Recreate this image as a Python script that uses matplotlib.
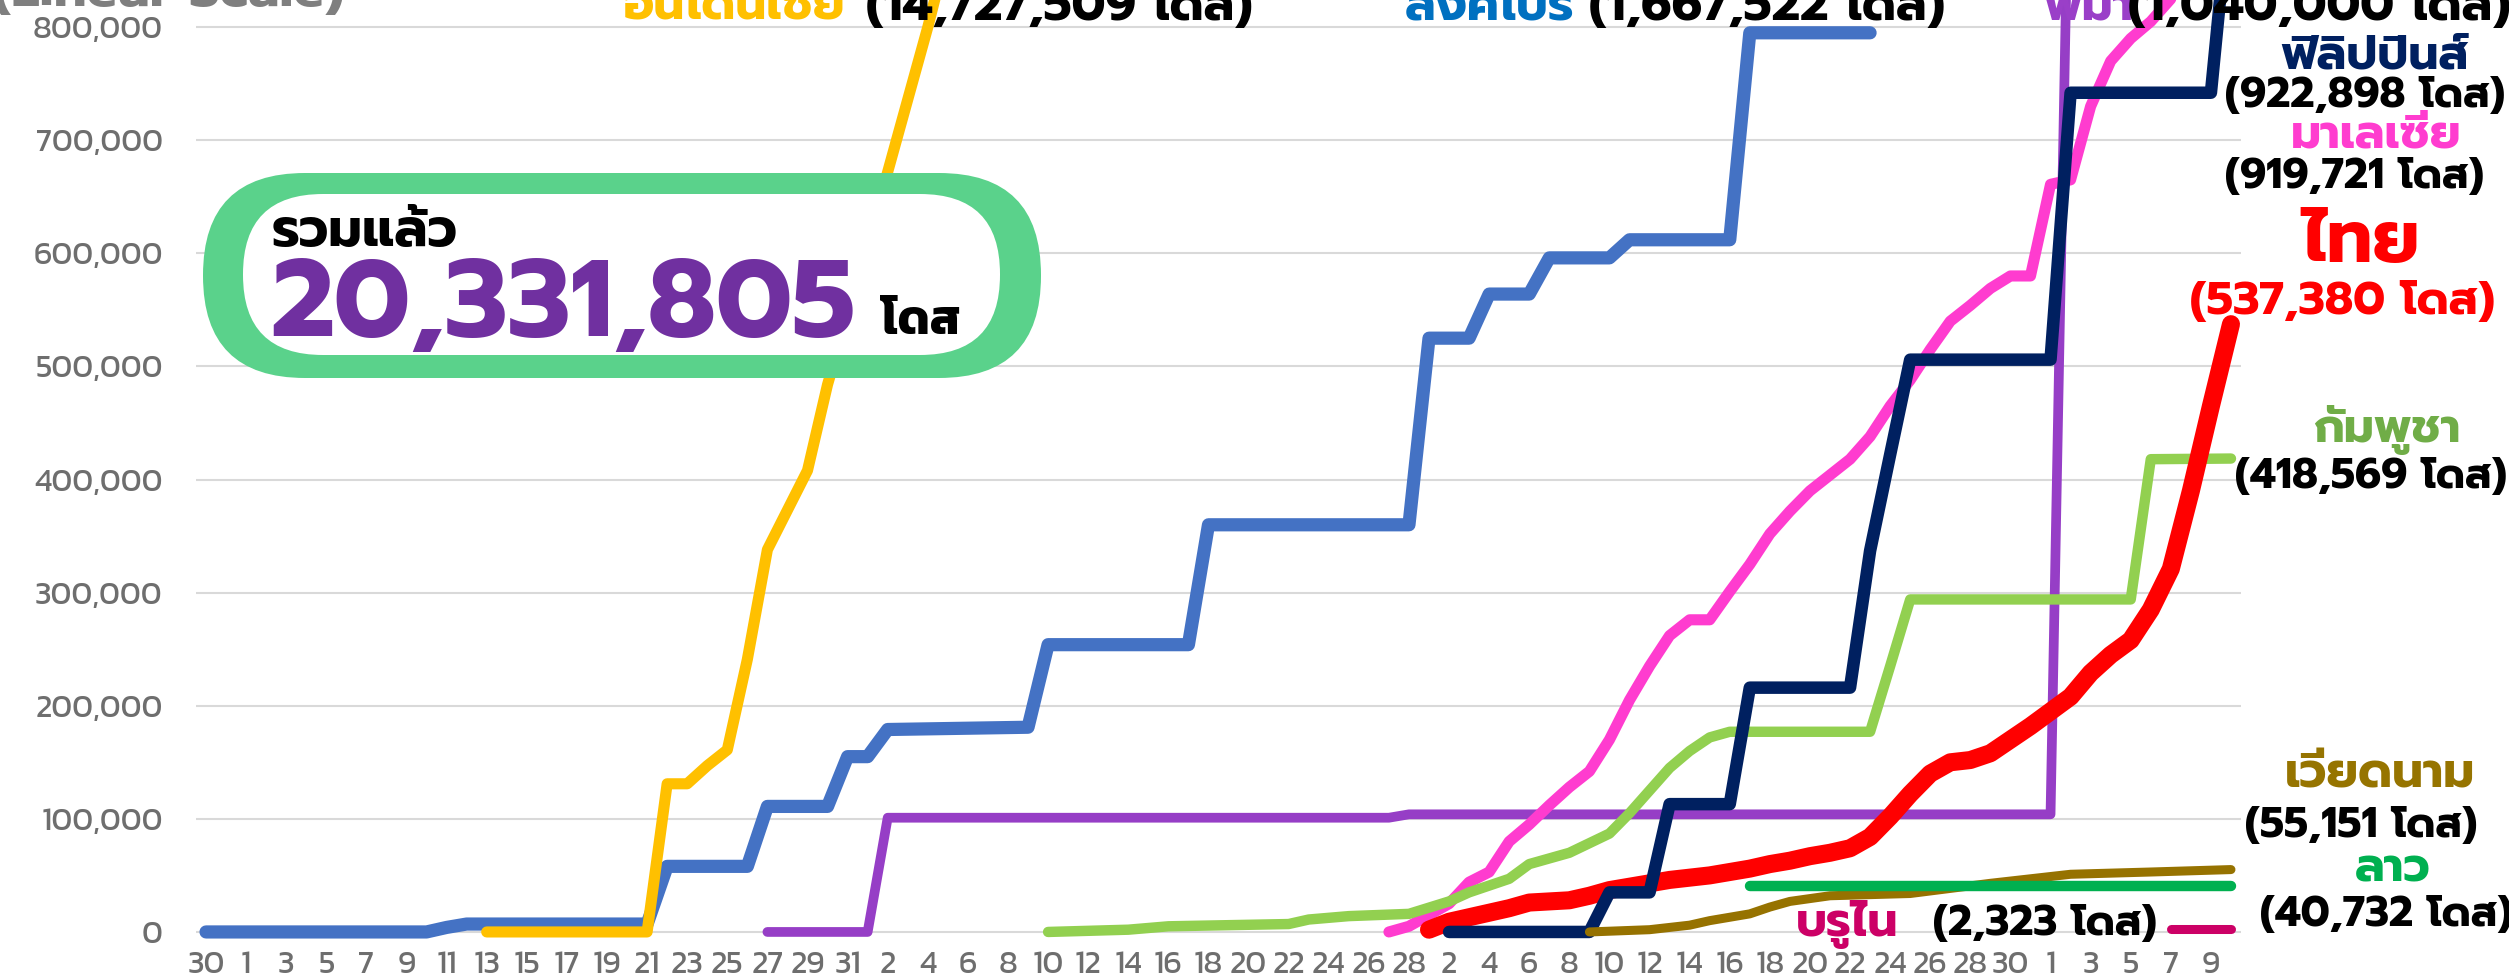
import pandas as pd
import matplotlib.pyplot as plt
from matplotlib.patches import FancyBboxPatch

# --- data: cumulative vaccine doses, read at the points where each line bends ---
days = pd.date_range("2020-12-30", "2021-04-10", freq="D")
tick_days = days[::2]

singapore_dates = ["2020-12-30", "2021-01-10", "2021-01-11", "2021-01-12", "2021-01-21", "2021-01-22",
                   "2021-01-26", "2021-01-27", "2021-01-30", "2021-01-31", "2021-02-01", "2021-02-02",
                   "2021-02-09", "2021-02-10", "2021-02-17", "2021-02-18", "2021-02-28", "2021-03-01",
                   "2021-03-03", "2021-03-04", "2021-03-06", "2021-03-07", "2021-03-10", "2021-03-11",
                   "2021-03-16", "2021-03-17", "2021-03-23"]
singapore_doses = [0, 0, 4000, 7000, 7000, 58000, 58000, 111000, 111000, 155000, 155000, 179000,
                   181000, 254000, 254000, 360000, 360000, 525000, 525000, 564000, 564000, 596000,
                   596000, 612000, 612000, 795000, 795000]

indonesia_dates = ["2021-01-13", "2021-01-21", "2021-01-22", "2021-01-23", "2021-01-24", "2021-01-25",
                   "2021-01-26", "2021-01-27", "2021-01-28", "2021-01-29", "2021-01-30", "2021-01-31",
                   "2021-02-01", "2021-02-02", "2021-02-03", "2021-02-04", "2021-02-05", "2021-04-10"]
indonesia_doses = [0, 0, 131000, 131000, 147000, 161000, 241000, 338000, 373000, 408000, 484000,
                   545000, 608000, 672000, 736000, 800000, 870000, 14727509]

myanmar_dates = ["2021-01-27", "2021-02-01", "2021-02-02", "2021-02-27", "2021-02-28", "2021-04-01",
                 "2021-04-02", "2021-04-10"]
myanmar_doses = [0, 0, 101000, 101000, 104000, 104000, 1040000, 1040000]

malaysia_dates = pd.date_range("2021-02-27", "2021-04-10", freq="D")
malaysia_doses = [0, 5000, 15000, 25000, 44000, 53000, 80000, 95000, 112000, 128000, 142000, 170000,
                  205000, 235000, 262000, 276000, 276000, 301000, 325000, 352000, 372000, 390000,
                  404000, 418000, 438000, 465000, 488000, 515000, 540000, 554000, 569000, 580000,
                  580000, 661000, 665000, 730000, 770000, 790000, 805000, 825000, 855000, 888000,
                  919721]

cambodia_dates = ["2021-02-10", "2021-02-14", "2021-02-16", "2021-02-22", "2021-02-23", "2021-02-25",
                  "2021-02-28", "2021-03-02", "2021-03-03", "2021-03-05", "2021-03-06", "2021-03-08",
                  "2021-03-10", "2021-03-11", "2021-03-12", "2021-03-13", "2021-03-14", "2021-03-15",
                  "2021-03-16", "2021-03-23", "2021-03-24", "2021-03-25", "2021-04-05", "2021-04-06",
                  "2021-04-10"]
cambodia_doses = [0, 2000, 5000, 7000, 11000, 14000, 16000, 27000, 35000, 47000, 60000, 70000,
                  87000, 105000, 125000, 145000, 160000, 172000, 177000, 177000, 235000, 294000,
                  294000, 418000, 418569]

thailand_dates = pd.date_range("2021-03-01", "2021-04-10", freq="D")
thailand_doses = [2000, 9000, 13000, 17000, 21000, 26000, 27000, 28000, 32000, 37000, 40000, 43000,
                  46000, 48000, 50000, 53000, 56000, 60000, 63000, 67000, 70000, 74000, 84000,
                  102000, 122000, 140000, 150000, 152000, 158000, 170000, 182000, 195000, 208000,
                  229000, 245000, 258000, 285000, 321000, 390000, 465000, 537380]

philippines_dates = ["2021-03-02", "2021-03-09", "2021-03-10", "2021-03-12", "2021-03-13", "2021-03-16",
                     "2021-03-17", "2021-03-22", "2021-03-23", "2021-03-24", "2021-03-25", "2021-04-01",
                     "2021-04-02", "2021-04-09", "2021-04-10"]
philippines_doses = [0, 0, 35000, 35000, 113000, 113000, 216000, 216000, 337000, 422000, 506000,
                     506000, 742000, 742000, 922898]

vietnam_dates = ["2021-03-09", "2021-03-12", "2021-03-13", "2021-03-14", "2021-03-15", "2021-03-16",
                 "2021-03-17", "2021-03-18", "2021-03-19", "2021-03-21", "2021-03-25", "2021-03-29",
                 "2021-04-02", "2021-04-06", "2021-04-10"]
vietnam_doses = [0, 2000, 4000, 6000, 10000, 13000, 16000, 22000, 27000, 32000, 34000, 43000,
                 51000, 53000, 55151]

laos_dates = ["2021-03-17", "2021-04-10"]
laos_doses = [40732, 40732]

brunei_dates = ["2021-04-07", "2021-04-10"]
brunei_doses = [2323, 2323]

yticks = list(range(0, 800001, 100000))

plt.rcParams["font.family"] = ["Kanit", "DejaVu Sans"]
WIDE = ["Prompt", "Kanit", "DejaVu Sans"]

fig = plt.figure(figsize=(25.09, 9.80), dpi=100)
ax = fig.add_axes([196 / 2509, 39 / 980, 2045 / 2509, 941 / 980])

series = [
    (singapore_dates, singapore_doses, "#4472C4", 9.5),
    (indonesia_dates, indonesia_doses, "#FFC000", 8),
    (myanmar_dates, myanmar_doses, "#963EC6", 7),
    (malaysia_dates, malaysia_doses, "#FF3CCF", 8),
    (cambodia_dates, cambodia_doses, "#92D050", 7.5),
    (thailand_dates, thailand_doses, "#FF0000", 13),
    (philippines_dates, philippines_doses, "#002060", 9),
    (vietnam_dates, vietnam_doses, "#967200", 6.5),
    (laos_dates, laos_doses, "#00B050", 7.5),
    (brunei_dates, brunei_doses, "#CC0066", 6.5),
]
for dates, doses, color, lw in series:
    ax.plot(pd.to_datetime(dates), doses, color=color, linewidth=lw,
            solid_capstyle="round", solid_joinstyle="round")

ax.set_xlim(days[0] - pd.Timedelta(hours=12), days[-1] + pd.Timedelta(hours=12))
ax.set_ylim(-8000, 824000)
ax.set_yticks(yticks)
ax.set_yticklabels([f"{v:,}" for v in yticks])
ax.set_xticks(tick_days)
ax.set_xticklabels([str(d.day) for d in tick_days])
ax.tick_params(length=0, labelcolor="#6E6E6E")
ax.tick_params(axis="y", pad=24, labelsize=23)
ax.tick_params(axis="x", pad=7, labelsize=23)
ax.grid(axis="y", color="#D9D9D9", linewidth=1.5)
ax.set_axisbelow(True)
for s in ax.spines.values():
    s.set_visible(False)

# overlay in pixel units for the labels and the total box
ov = fig.add_axes([0, 0, 1, 1], zorder=5)
ov.set_xlim(0, 2509)
ov.set_ylim(980, 0)
ov.axis("off")

ov.add_patch(FancyBboxPatch((203, 173), 838, 205, boxstyle="round,pad=0,rounding_size=102",
                            facecolor="#5AD28B", edgecolor="none"))
ov.add_patch(FancyBboxPatch((243, 194), 757, 161, boxstyle="round,pad=0,rounding_size=80",
                            facecolor="white", edgecolor="none"))
ov.text(272, 246, "รวมแล้ว", family=WIDE, fontsize=38, fontweight="bold", color="black")
ov.text(270, 336, "20,331,805", family=WIDE, fontsize=79, fontweight="bold", color="#7030A0")
ov.text(881, 334, "โดส", fontsize=35, fontweight="bold", color="black")

ov.text(-8, 6, "(Linear Scale)", family=WIDE, fontsize=38, fontweight="bold", color="#7F7F7F")

# labels along the top, cut by the frame as in the source image
top_kw = dict(family=WIDE, fontsize=35, fontweight="bold")
ov.text(624, 20, "อินโดนีเซีย", color="#FFC000", **top_kw)
ov.text(866, 20, "(14,727,509 โดส)", color="black", **top_kw)
ov.text(1405, 20, "สิงคโปร์", color="#0070C0", **top_kw)
ov.text(1589, 20, "(1,667,522 โดส)", color="black", **top_kw)
ov.text(2043, 20, "พม่า", color="#9A3FC8", **top_kw)
ov.text(2128, 20, "(1,040,000 โดส)", color="black", **top_kw)

# labels on the right
name_kw = dict(family=WIDE, fontweight="bold", ha="center", va="center")
count_kw = dict(family=WIDE, fontweight="bold", ha="left", va="center", color="black", fontsize=30)
ov.text(2375, 56, "ฟิลิปปินส์", color="#002060", fontsize=34, **name_kw)
ov.text(2225, 96, "(922,898 โดส)", **count_kw)
ov.text(2376, 135, "มาเลเซีย", color="#FF3CCF", fontsize=34, **name_kw)
ov.text(2225, 177, "(919,721 โดส)", **count_kw)
ov.text(2361, 243, "ไทย", color="#FF0000", fontsize=52, **name_kw)
ov.text(2190, 302, "(537,380 โดส)", family=WIDE, fontweight="bold", ha="left", va="center",
        color="#FF0000", fontsize=33)
ov.text(2387, 430, "กัมพูชา", color="#70AD47", fontsize=34, **name_kw)
ov.text(2235, 477, "(418,569 โดส)", **count_kw)
ov.text(2380, 775, "เวียดนาม", color="#967400", fontsize=35, **name_kw)
ov.text(2245, 826, "(55,151 โดส)", **count_kw)
ov.text(2393, 869, "ลาว", color="#00B050", fontsize=34, **name_kw)
ov.text(2260, 915, "(40,732 โดส)", **count_kw)
ov.text(1796, 924, "บรูไน", family=WIDE, fontweight="bold", ha="left", va="center",
        color="#CC0066", fontsize=34)
ov.text(1933, 924, "(2,323 โดส)", family=WIDE, fontweight="bold", ha="left", va="center",
        color="black", fontsize=30)

fig.savefig("out.png", dpi=100)
